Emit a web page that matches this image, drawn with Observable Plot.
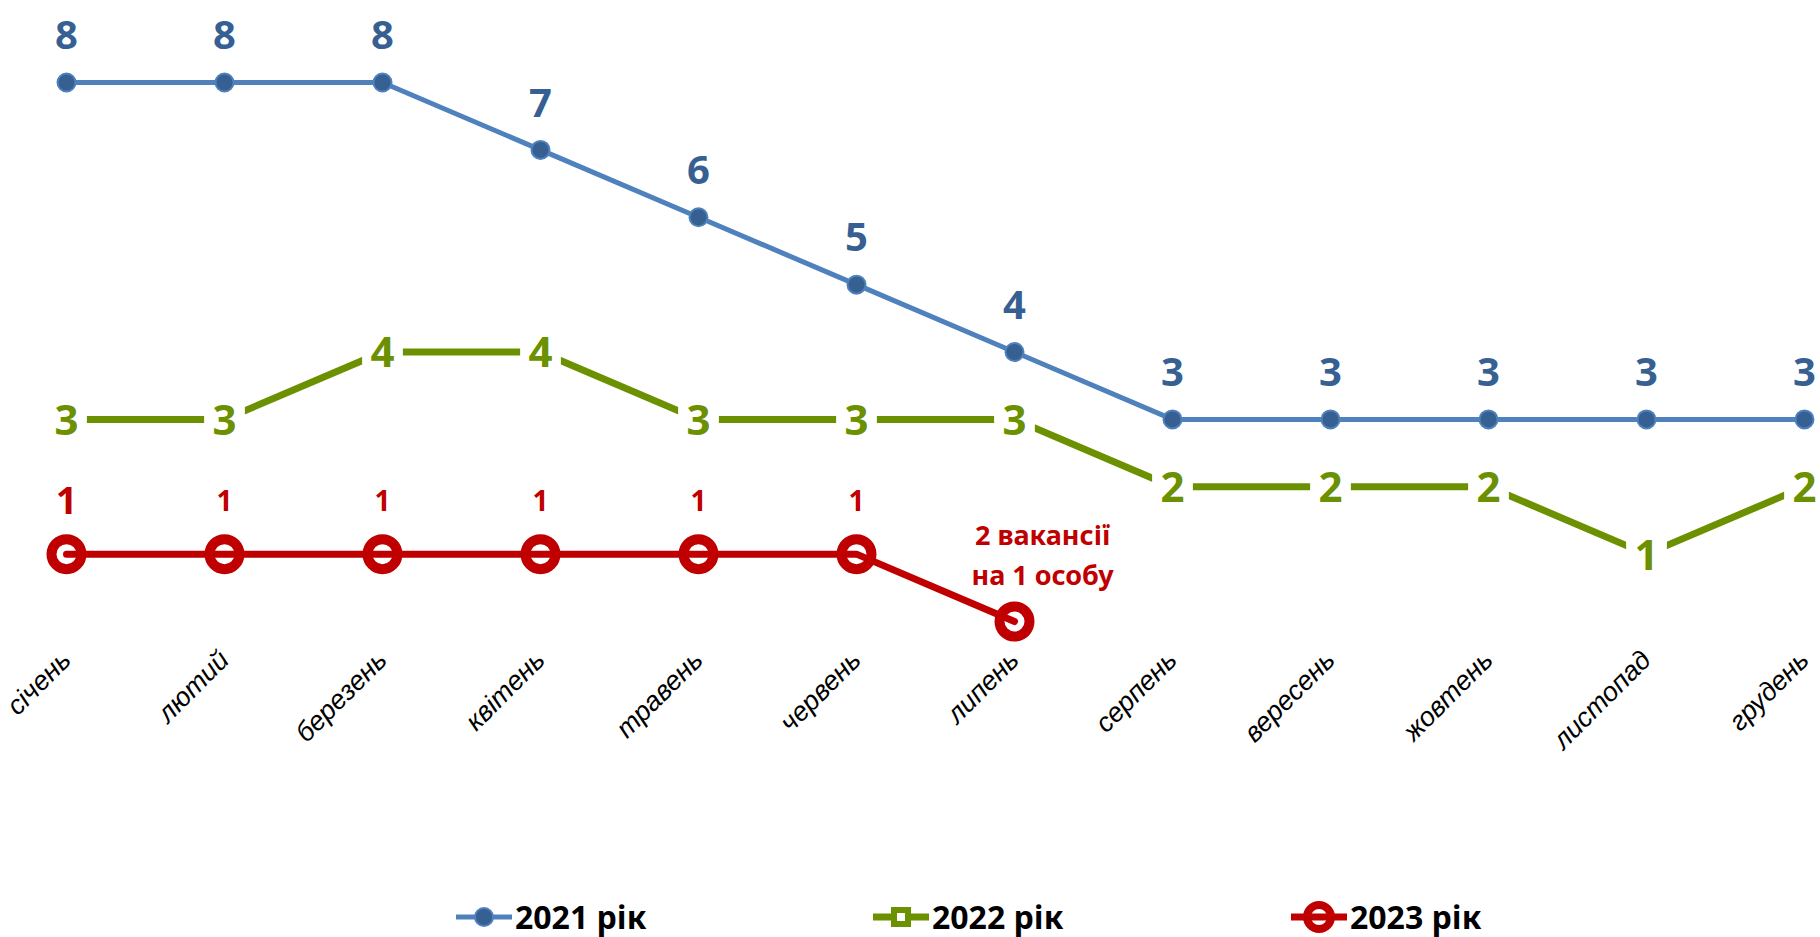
<!DOCTYPE html>
<html><head><meta charset="utf-8">
<script src="https://cdn.jsdelivr.net/npm/d3@7"></script>
<script src="https://cdn.jsdelivr.net/npm/@observablehq/plot@0.6"></script>
<style>
body{margin:0;background:#fff;font-family:"Noto Sans",sans-serif;}
#wrap{position:relative;width:1820px;height:937px;overflow:hidden;}
#legend{position:absolute;left:0;top:888px;width:1820px;height:57px;}
.item{position:absolute;top:0;height:57px;display:flex;align-items:center;}
.item span{font-weight:bold;font-size:32px;color:#000;margin-left:3px;}
g[aria-label="x-axis tick label"] text{font-style:italic;font-family:"Liberation Sans",Arial,sans-serif;}
</style>
</head><body>
<div id="wrap"><div id="chart"></div><div id="legend"></div></div>
<script>
const months = ["січень","лютий","березень","квітень","травень","червень","липень","серпень","вересень","жовтень","листопад","грудень"];
const v2021 = [8,8,8,7,6,5,4,3,3,3,3,3];
const v2022 = [3,3,4,4,3,3,3,2,2,2,1,2];
const v2023 = [1,1,1,1,1,1,0];
const labels2023 = ["1","1","1","1","1","1","2 вакансії\nна 1 особу"];
const seriesNames = ["2021 рік","2022 рік","2023 рік"];

const blue="#4f81bd", blueDark="#376092", green="#6b9000", red="#c00000";
const W=1820, H=880;
const d21 = v2021.map((v,i)=>({m:months[i], v}));
const d22 = v2022.map((v,i)=>({m:months[i], v}));
const d23 = v2023.map((v,i)=>({m:months[i], v, label:labels2023[i], i}));

const chart = Plot.plot({
  width:W, height:H,
  marginTop:82, marginBottom:H-621, marginLeft:64, marginRight:W-1805,
  style:{fontFamily:"'Noto Sans', sans-serif", background:"#fff", overflow:"visible"},
  x:{type:"point", domain:months, padding:0},
  y:{domain:[0,8], axis:null},
  marks:[
    Plot.axisX({tickRotate:-45, tickSize:0, tickPadding:34, fontSize:27, fill:"#000", fontStyle:"italic", fontFamily:"'Liberation Sans', Arial, sans-serif", label:null}),
    Plot.line(d22,{x:"m", y:"v", stroke:green, strokeWidth:7}),
    Plot.dot(d22,{x:"m", y:"v", symbol:"square", r:23, fill:"#fff"}),
    Plot.text(d22,{x:"m", y:"v", text:d=>String(d.v), fill:green, fontSize:42, fontWeight:"bold", dy:2}),
    Plot.line(d21,{x:"m", y:"v", stroke:blue, strokeWidth:5}),
    Plot.dot(d21,{x:"m", y:"v", r:9, fill:blueDark, stroke:blue, strokeWidth:2}),
    Plot.text(d21,{x:"m", y:"v", text:d=>String(d.v), fill:blueDark, fontSize:40, fontWeight:"bold", dy:-46}),
    Plot.dot(d23,{x:"m", y:"v", r:15, fill:"#fff", stroke:red, strokeWidth:10}),
    Plot.line(d23,{x:"m", y:"v", stroke:red, strokeWidth:7}),
    Plot.text(d23,{filter:d=>d.i<6, x:"m", y:"v", text:"label", fill:red, fontSize:d=>d.i===0?38:28, fontWeight:"bold", dy:-52}),
    Plot.text(d23,{filter:d=>d.i===6, x:"m", y:"v", text:"label", fill:red, fontSize:27, fontWeight:"bold", dx:28, dy:-69, lineHeight:1.45})
  ]
});
document.getElementById("chart").appendChild(chart);

// legend
const legend = d3.select("#legend");
const items = [
  {name:seriesNames[0], left:456, draw:(s)=>{
    s.append("line").attr("x1",0).attr("x2",56).attr("y1",20).attr("y2",20).attr("stroke",blue).attr("stroke-width",5);
    s.append("circle").attr("cx",28).attr("cy",20).attr("r",9).attr("fill",blueDark).attr("stroke",blue).attr("stroke-width",2);
  }},
  {name:seriesNames[1], left:873, draw:(s)=>{
    s.append("line").attr("x1",0).attr("x2",56).attr("y1",20).attr("y2",20).attr("stroke",green).attr("stroke-width",7);
    s.append("rect").attr("x",18).attr("y",10).attr("width",20).attr("height",20).attr("fill",green);
    s.append("rect").attr("x",24).attr("y",16).attr("width",8).attr("height",8).attr("fill","#fff");
  }},
  {name:seriesNames[2], left:1291, draw:(s)=>{
    s.append("circle").attr("cx",28).attr("cy",20).attr("r",12).attr("fill","#fff").attr("stroke",red).attr("stroke-width",8);
    s.append("line").attr("x1",0).attr("x2",56).attr("y1",20).attr("y2",20).attr("stroke",red).attr("stroke-width",7);
  }}
];
items.forEach(it=>{
  const div = legend.append("div").attr("class","item").style("left",it.left+"px");
  const s = div.append("svg").attr("width",56).attr("height",40);
  it.draw(s);
  div.append("span").text(it.name);
});
</script>
</body></html>
